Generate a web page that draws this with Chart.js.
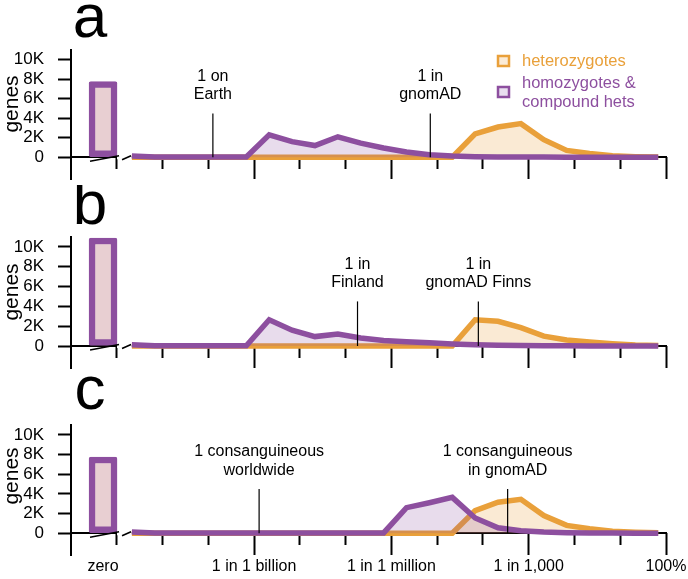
<!DOCTYPE html>
<html>
<head>
<meta charset="utf-8">
<script src="https://cdn.jsdelivr.net/npm/chart.js@4.4.0/dist/chart.umd.min.js"></script>
<style>
  html, body { margin: 0; padding: 0; background: #fff; }
  #wrap { position: relative; width: 688px; height: 579px; overflow: hidden; }
  canvas { position: absolute; left: 0; }
</style>
</head>
<body>
<div id="wrap">
  <canvas id="panelA" width="688" height="185" style="top:0px"></canvas>
  <canvas id="panelB" width="688" height="190" style="top:185px"></canvas>
  <canvas id="panelC" width="688" height="204" style="top:375px"></canvas>
</div>
<script>
// x positions: log10 of the frequency of each bin
const binExp = [-11.67, -11.17, -10.67, -10.17, -9.67, -9.17, -8.67, -8.17, -7.67, -7.17, -6.67, -6.17,
                -5.67, -5.17, -4.67, -4.17, -3.67, -3.17, -2.67, -2.17, -1.67, -1.17, -0.67, -0.17];
const zeroExp = -12.3;          // where the "zero" bar sits
const zeroLabel = 'zero';

// genes with zero expected carriers, per panel
const zeroGenes = [7750, 10900, 7750];

// a: worldwide
const homA = [120, 30, 30, 30, 30, 30, 2300, 1600, 1200, 2100, 1450, 950, 550, 250, 120, 60, 40, 30, 20, 10, 10, 10, 10, 10];
const hetA = [0, 0, 0, 0, 0, 0, 0, 0, 0, 0, 0, 0, 0, 0, 0, 2400, 3100, 3450, 1800, 700, 380, 150, 60, 20];
// b: Finland
const homB = [120, 30, 30, 30, 30, 30, 2650, 1600, 950, 1200, 800, 550, 420, 320, 200, 120, 70, 40, 30, 20, 10, 10, 10, 10];
const hetB = [0, 0, 0, 0, 0, 0, 0, 0, 0, 0, 0, 0, 0, 0, 0, 2650, 2500, 1850, 1000, 600, 400, 230, 100, 40];
// c: consanguineous
const homC = [120, 30, 30, 30, 30, 30, 30, 30, 30, 30, 30, 30, 2600, 3100, 3650, 1550, 550, 250, 120, 60, 30, 20, 10, 10];
const hetC = [0, 0, 0, 0, 0, 0, 0, 0, 0, 0, 0, 0, 0, 0, 0, 2300, 3150, 3450, 1800, 800, 450, 200, 100, 40];

const majorExp = [-9, -6, -3, 0];
const majorLabels = ['1 in 1 billion', '1 in 1 million', '1 in 1,000', '100%'];
const minorExp = [-12, -11, -10, -8, -7, -5, -4, -2, -1];
const yTicks = [0, 1000, 2000, 3000, 4000, 5000, 6000, 7000, 8000, 9000, 10000, 11000];
const yLabels = {0: '0', 2000: '2K', 4000: '4K', 6000: '6K', 8000: '8K', 10000: '10K'};

// reference lines: [log10 frequency, text lines]
const marksA = [[-9.9, ['1 on', 'Earth']], [-5.15, ['1 in', 'gnomAD']]];
const marksB = [[-6.74, ['1 in', 'Finland']], [-4.1, ['1 in', 'gnomAD Finns']]];
const marksC = [[-8.89, ['1 consanguineous', 'worldwide']], [-3.46, ['1 consanguineous', 'in gnomAD']]];

const ORANGE = '#E9A03A';
const PURPLE = '#8D4F9F';
const ORANGE_FILL = 'rgba(233,160,58,0.22)';
const PURPLE_FILL = 'rgba(141,79,159,0.2)';
const BAR_FILL = '#E8CFD2';
const FONT = 'Helvetica, Arial, "Liberation Sans", sans-serif';

Chart.defaults.font.family = FONT;
Chart.defaults.color = '#000';

function makePanel(id, letter, letterBase, genesY, hom, het, zero, marks, pad, showLabels, legend) {
  const decor = {
    id: 'decor' + letter,
    beforeDatasetsDraw(chart) {
      const c = chart.ctx, xs = chart.scales.x, ys = chart.scales.y;
      const y0 = ys.getPixelForValue(0);
      // gap in the axis between the zero bar and the log part
      c.save();
      c.fillStyle = '#fff';
      const gx = xs.getPixelForValue(zeroExp) + 14;
      c.fillRect(gx, y0 - 2, xs.getPixelForValue(binExp[0]) - gx, 4);
      c.restore();
    },
    afterDatasetsDraw(chart) {
      const c = chart.ctx, xs = chart.scales.x, ys = chart.scales.y;
      const y0 = ys.getPixelForValue(0);
      const xb = xs.getPixelForValue(zeroExp);
      c.save();
      // axis break
      c.strokeStyle = '#000';
      c.lineWidth = 1.6;
      c.beginPath();
      c.moveTo(xb - 13, y0 + 4); c.lineTo(xb + 16, y0 - 1.5);
      c.moveTo(xb + 19, y0 + 2.5); c.lineTo(xb + 28, y0 - 1.5);
      c.stroke();
      // reference lines
      c.lineWidth = 1.2;
      c.font = '16px ' + FONT;
      c.textAlign = 'center';
      c.textBaseline = 'middle';
      c.fillStyle = '#000';
      marks.forEach(([e, txt]) => {
        const x = xs.getPixelForValue(e);
        const top = ys.getPixelForValue(4500);
        c.beginPath(); c.moveTo(x, y0); c.lineTo(x, top); c.stroke();
        c.fillText(txt[0], x, top - 37);
        c.fillText(txt[1], x, top - 18.5);
      });
      // panel letter
      c.font = '62px ' + FONT;
      c.textBaseline = 'alphabetic';
      c.fillText(letter, 90, letterBase);
      // y title
      c.save();
      c.translate(12, genesY);
      c.rotate(-Math.PI / 2);
      c.font = '21px ' + FONT;
      c.textBaseline = 'middle';
      c.fillText('genes', 0, 0);
      c.restore();
      if (legend) {
        c.lineWidth = 2.5;
        c.fillStyle = '#FBEBD6'; c.strokeStyle = ORANGE;
        c.fillRect(498, 56, 11, 10); c.strokeRect(498, 56, 11, 10);
        c.fillStyle = '#E9DEEF'; c.strokeStyle = PURPLE;
        c.fillRect(498, 87, 11, 10); c.strokeRect(498, 87, 11, 10);
        c.font = '16.5px ' + FONT;
        c.textAlign = 'left';
        c.textBaseline = 'middle';
        c.fillStyle = ORANGE; c.fillText('heterozygotes', 522, 61);
        c.fillStyle = PURPLE;
        c.fillText('homozygotes &', 522, 83);
        c.fillText('compound hets', 522, 102);
      }
      c.restore();
    }
  };

  const noPad = (s) => { s.paddingLeft = 0; s.paddingRight = 0; s.paddingTop = 0; s.paddingBottom = 0; };

  return new Chart(document.getElementById(id), {
    type: 'line',
    data: {
      datasets: [
        {
          label: 'homozygotes & compound hets',
          data: binExp.map((e, i) => ({x: e, y: hom[i]})),
          borderColor: PURPLE, backgroundColor: PURPLE_FILL, borderWidth: 5.5,
          fill: 'origin', pointRadius: 0, tension: 0
        },
        {
          label: 'heterozygotes',
          data: binExp.map((e, i) => ({x: e, y: het[i]})),
          borderColor: ORANGE, backgroundColor: ORANGE_FILL, borderWidth: 5.5,
          fill: 'origin', pointRadius: 0, tension: 0
        },
        {
          type: 'bar',
          label: 'zero',
          data: [{x: zeroExp, y: zero}],
          backgroundColor: BAR_FILL, borderColor: PURPLE, borderWidth: 6.5,
          borderSkipped: false, borderRadius: 2, barThickness: 28
        }
      ]
    },
    options: {
      responsive: false,
      animation: false,
      devicePixelRatio: 1,
      events: [],
      layout: { padding: pad },
      plugins: { legend: { display: false }, tooltip: { enabled: false } },
      scales: {
        x: {
          type: 'linear', min: -13, max: 0, position: { y: 0 }, offset: false,
          afterBuildTicks: (s) => { s.ticks = minorExp.map(v => ({value: v})); },
          afterFit: noPad,
          grid: { offset: false, drawOnChartArea: false, tickLength: 11, tickWidth: 2, tickColor: '#000' },
          border: { display: true, color: '#000', width: 2 },
          ticks: { display: false }
        },
        xMaj: {
          type: 'linear', min: -13, max: 0, position: { y: 0 }, offset: false,
          afterBuildTicks: (s) => { s.ticks = [zeroExp].concat(majorExp).map(v => ({value: v})); },
          afterFit: noPad,
          grid: {
            offset: false, drawOnChartArea: false, tickLength: 22, tickWidth: 2,
            tickColor: (ctx) => (ctx.tick && ctx.tick.value === zeroExp) ? 'rgba(0,0,0,0)' : '#000'
          },
          border: { display: false },
          ticks: {
            display: showLabels, autoSkip: false, maxRotation: 0, padding: 2,
            font: { size: 16 }, color: '#000',
            callback: (v) => v === zeroExp ? zeroLabel : majorLabels[majorExp.indexOf(v)]
          }
        },
        y: {
          type: 'linear', min: -2300, max: 11000, position: 'left',
          afterBuildTicks: (s) => { s.ticks = yTicks.map(v => ({value: v})); },
          afterFit: (s) => { s.width = 71; noPad(s); },
          grid: { drawOnChartArea: false, tickLength: 13, tickWidth: 2, tickColor: '#000' },
          border: { display: true, color: '#000', width: 2 },
          ticks: {
            padding: 14, font: { size: 17 }, color: '#000',
            callback: (v) => yLabels[v] !== undefined ? yLabels[v] : ''
          }
        }
      }
    },
    plugins: [decor]
  });
}

makePanel('panelA', 'a', 37, 104, homA, hetA, zeroGenes[0], marksA,
  { top: 50, bottom: 5.3, left: 0, right: 22 }, false, true);
makePanel('panelB', 'b', 39, 107, homB, hetB, zeroGenes[1], marksB,
  { top: 52, bottom: 6.2, left: 0, right: 22 }, false, false);
makePanel('panelC', 'c', 34, 101, homC, hetC, zeroGenes[2], marksC,
  { top: 50, bottom: 23.1, left: 0, right: 22 }, true, false);
</script>
</body>
</html>
